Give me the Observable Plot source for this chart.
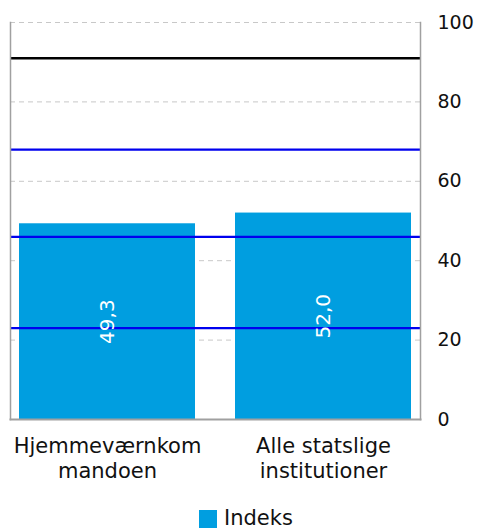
<!DOCTYPE html>
<html>
<head>
<meta charset="utf-8">
<script src="https://cdn.jsdelivr.net/npm/d3@7"></script>
<script src="https://cdn.jsdelivr.net/npm/@observablehq/plot@0.6"></script>
<style>
  body { margin: 0; background: #fff; font-family: Verdana, "DejaVu Sans", sans-serif; position: relative; width: 478px; height: 529px; overflow: hidden; }
  #legend { position: absolute; left: 199px; top: 509px; display: flex; align-items: center; font-size: 21px; color: #111; line-height: 19px; height: 19px; }
  #legend span.sw { display: inline-block; width: 18px; height: 18px; background: #009ee0; margin-right: 7px; }
</style>
</head>
<body>
<div id="chart"></div>
<div id="legend"><span class="sw"></span><span>Indeks</span></div>
<script>
const categories = ["Hjemmeværnkommandoen", "Alle statslige institutioner"];
const categoryLabels = ["Hjemmeværnkom\nmandoen", "Alle statslige\ninstitutioner"];
const values = [49.3, 52.0];
const blackLine = [91];
const blueLines = [68, 46, 23];
const yTicks = [0, 20, 40, 60, 80, 100];

const data = categories.map((c, i) => ({category: c, value: values[i]}));
const labelOf = new Map(categories.map((c, i) => [c, categoryLabels[i]]));
const fmt = v => v.toFixed(1).replace(".", ",");

const chart = Plot.plot({
  width: 478,
  height: 493,
  marginTop: 22,
  marginBottom: 74,
  marginLeft: 10,
  marginRight: 58,
  style: {fontFamily: "Verdana, 'DejaVu Sans', sans-serif", background: "#fff"},
  x: {domain: categories, paddingInner: 0.184, paddingOuter: 0.037, label: null},
  y: {domain: [0, 100], label: null},
  marks: [
    Plot.ruleY(yTicks.filter(d => d > 0), {stroke: "#c8c8c8", strokeDasharray: "5,4", strokeWidth: 1}),
    Plot.barY(data, {x: "category", y: "value", fill: "#009ee0"}),
    Plot.ruleY(blueLines, {stroke: "#0000ee", strokeWidth: 2.2}),
    Plot.ruleY(blackLine, {stroke: "#000", strokeWidth: 2.5}),
    Plot.text(data, {x: "category", y: d => d.value / 2, text: d => fmt(d.value), rotate: -90, fill: "#fff", fontSize: 20}),
    Plot.frame({anchor: "left", stroke: "#a0a0a0", strokeWidth: 1.5}),
    Plot.frame({anchor: "right", stroke: "#a0a0a0", strokeWidth: 1.5}),
    Plot.frame({anchor: "bottom", stroke: "#a0a0a0", strokeWidth: 2}),
    Plot.axisY(yTicks, {anchor: "right", tickSize: 0, tickPadding: 17, textAnchor: "start", fontSize: 19, fill: "#111", label: null}),
    Plot.axisX({tickSize: 0, tickPadding: 16, fontSize: 21, fill: "#111", lineHeight: 1.19, tickFormat: d => labelOf.get(d), label: null})
  ]
});
document.getElementById("chart").appendChild(chart);
</script>
</body>
</html>
